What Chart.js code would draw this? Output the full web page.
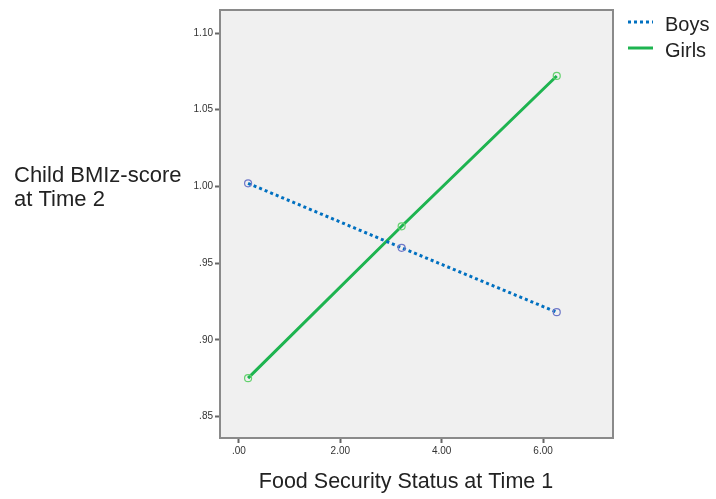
<!DOCTYPE html>
<html>
<head>
<meta charset="utf-8">
<script src="https://cdn.jsdelivr.net/npm/chart.js@4"></script>
<style>
  html, body { margin: 0; padding: 0; background: #fff; }
  #wrap { width: 716px; height: 499px; position: relative; }
</style>
</head>
<body>
<div id="wrap"><canvas id="grafico"></canvas></div>
<script>
// food security status at time 1 (x) vs child BMIz at time 2 (y)
const xPontos = [0.18, 3.21, 6.27];
const meninos = [1.002, 0.960, 0.918];
const meninas = [0.875, 0.974, 1.072];
const nomesSeries = ['Boys', 'Girls'];
const xTicks = [0, 2, 4, 6];
const yTicks = [0.85, 0.90, 0.95, 1.00, 1.05, 1.10];
const tituloX = 'Food Security Status at Time 1';
const tituloY = ['Child BMIz-score', 'at Time 2'];

const azul = 'rgb(0, 112, 192)';
const verde = 'rgb(30, 180, 80)';
const fonte = '"Liberation Sans", Arial, sans-serif';

function formatar(v) {
  return v.toFixed(2).replace(/^0/, '');
}

const extras = {
  id: 'extras',
  beforeDraw(chart) {
    const { ctx, chartArea: a } = chart;
    ctx.save();
    ctx.fillStyle = '#f0f0f0';
    ctx.fillRect(a.left, a.top, a.right - a.left, a.bottom - a.top);
    ctx.restore();
  },
  afterDraw(chart) {
    const { ctx, chartArea: a } = chart;
    ctx.save();
    ctx.strokeStyle = '#8a8a8a';
    ctx.lineWidth = 2;
    ctx.strokeRect(a.left, a.top, a.right - a.left, a.bottom - a.top);

    ctx.fillStyle = '#222';
    ctx.textBaseline = 'alphabetic';
    ctx.textAlign = 'left';
    ctx.font = '22px ' + fonte;
    ctx.fillText(tituloY[0], 14, 182);
    ctx.fillText(tituloY[1], 14, 206);
    ctx.textAlign = 'center';
    ctx.font = '21.5px ' + fonte;
    ctx.fillText(tituloX, 406, 488);

    // legenda
    const cores = [azul, verde];
    const tracos = [[3, 3], []];
    ctx.font = '20px ' + fonte;
    nomesSeries.forEach((nome, i) => {
      const y = 22 + i * 26;
      ctx.beginPath();
      ctx.strokeStyle = cores[i];
      ctx.lineWidth = 3;
      ctx.setLineDash(tracos[i]);
      ctx.moveTo(628, y);
      ctx.lineTo(653, y);
      ctx.stroke();
      ctx.setLineDash([]);
      ctx.textAlign = 'left';
      ctx.fillStyle = '#222';
      ctx.fillText(nome, 665, y + 9);
    });
    ctx.restore();
  }
};

const ctx = document.getElementById('grafico').getContext('2d');
new Chart(ctx, {
  type: 'scatter',
  data: {
    datasets: [{
      label: nomesSeries[0],
      data: xPontos.map((x, i) => ({ x: x, y: meninos[i] })),
      showLine: true,
      borderColor: azul,
      borderWidth: 3,
      borderDash: [3, 3],
      borderCapStyle: 'butt',
      pointRadius: 3.5,
      pointBorderWidth: 1.2,
      pointBorderColor: 'rgb(110, 120, 200)',
      pointBackgroundColor: 'rgba(0,0,0,0)'
    }, {
      label: nomesSeries[1],
      data: xPontos.map((x, i) => ({ x: x, y: meninas[i] })),
      showLine: true,
      borderColor: verde,
      borderWidth: 3,
      pointRadius: 3.5,
      pointBorderWidth: 1.2,
      pointBorderColor: 'rgb(100, 210, 110)',
      pointBackgroundColor: 'rgba(0,0,0,0)'
    }]
  },
  options: {
    responsive: true,
    maintainAspectRatio: false,
    animation: false,
    layout: { padding: { left: 0, right: 103, top: 10, bottom: 0 } },
    plugins: {
      legend: { display: false },
      tooltip: { enabled: false }
    },
    scales: {
      x: {
        type: 'linear',
        min: -0.374,
        max: 7.38,
        afterFit(scale) { scale.height = 61; },
        afterBuildTicks(scale) { scale.ticks = xTicks.map(v => ({ value: v })); },
        grid: { display: true, drawOnChartArea: false, drawTicks: true, tickLength: 5, tickWidth: 2, tickColor: '#666' },
        border: { display: false },
        ticks: {
          color: '#333',
          padding: 2,
          font: { family: fonte, size: 10 },
          callback: v => formatar(v)
        }
      },
      y: {
        type: 'linear',
        min: 0.836,
        max: 1.115,
        afterFit(scale) { scale.width = 220; },
        afterBuildTicks(scale) { scale.ticks = yTicks.map(v => ({ value: v })); },
        grid: { display: true, drawOnChartArea: false, drawTicks: true, tickLength: 5, tickWidth: 2, tickColor: '#666' },
        border: { display: false },
        ticks: {
          color: '#333',
          padding: 2,
          font: { family: fonte, size: 10 },
          callback: v => formatar(v)
        }
      }
    }
  },
  plugins: [extras]
});
</script>
</body>
</html>
